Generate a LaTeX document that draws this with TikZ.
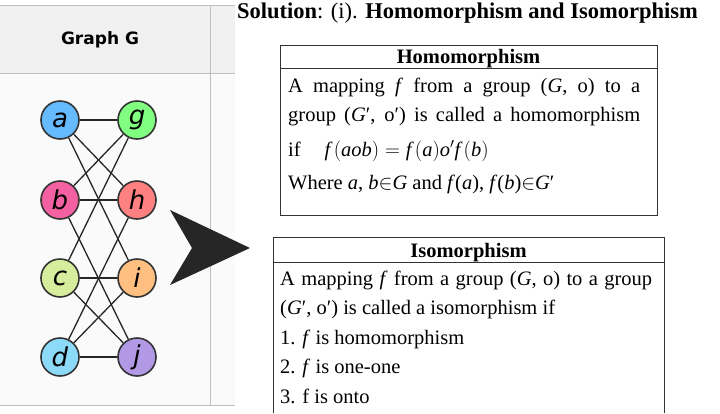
\documentclass[tikz,border=0pt]{standalone}
\usepackage{fontspec}
\setmainfont{Liberation Serif}
\newfontfamily\graphfont{DejaVu Sans}
\newfontfamily\vertexfont{DejaVu Sans Oblique}
\usetikzlibrary{positioning}
\pgfdeclarelayer{background}
\pgfsetlayers{background,main}
\newcommand{\jline}[1]{\makebox[352pt][s]{#1}}
\begin{document}
\begin{tikzpicture}[x=1pt,y=-1pt]
\tikzstyle{vertex} = [circle, draw=black!80, line width=1.6pt, minimum size=38pt, inner sep=0pt, font=\vertexfont\fontsize{26}{26}\selectfont]
\tikzstyle{edge} = [line width=1.3pt, black!85]
\tikzstyle{body} = [anchor=base west, inner sep=0pt, font=\fontsize{20.5}{20.5}\selectfont]
\tikzstyle{head} = [anchor=base, inner sep=0pt, font=\bfseries\fontsize{20.5}{20.5}\selectfont]
\useasboundingbox (0,0) rectangle (720,413);
%
% table panel
\begin{pgfonlayer}{background}
\fill[black!6] (0,5) rectangle (235,73);
\fill[black!2] (0,73) rectangle (235,405);
\draw[black!25] (0,5) -- (235,5) (0,73) -- (235,73) (0,405) -- (235,405) (210,5) -- (210,405);
\end{pgfonlayer}
\node (graphhead) [font=\graphfont\bfseries\fontsize{17}{17}\selectfont] at (100,40) {Graph G};
%
% vertices
\node (a) [vertex, fill=blue!45!cyan!60] at (60,120) {a};
\node (g) [vertex, fill=green!50!white] at (137,120) {g};
\node (b) [vertex, fill=magenta!50!pink] at (60,200) {b};
\node (h) [vertex, fill=red!50!white] at (137,200) {h};
\node (c) [vertex, fill=yellow!60!green!40!white] at (60,278) {c};
\node (i) [vertex, fill=orange!50!white] at (137,278) {i};
\node (d) [vertex, fill=cyan!45!white] at (60,357) {d};
\node (j) [vertex, fill=blue!50!violet!40!white] at (137,357) {j};
%
\begin{pgfonlayer}{background}
\foreach \u/\v in {a/g,a/h,a/i,b/g,b/h,b/j,c/g,c/i,c/j,d/h,d/i,d/j}
  \draw [edge] (\u) -- (\v);
\end{pgfonlayer}
%
% arrow
\fill[black!85] (170,210) -- (250,248) -- (170,285) -- (192,248) -- cycle;
%
% title
\node (title) [anchor=base west, inner sep=0pt, font=\fontsize{22.5}{22.5}\selectfont] at (237,18) {\textbf{Solution}: (i). \textbf{Homomorphism and Isomorphism}};
%
% homomorphism box
\draw[line width=1pt, black!80] (280,45) rectangle (657,215) (280,68) -- (657,68);
\node (homhead) [head] at (468.5,63) {Homomorphism};
\node (hom1) [body] at (288,92) {\jline{A mapping \textit{f} from a group (\textit{G}, o) to a}};
\node (hom2) [body] at (288,121) {\jline{group (\textit{G}′, o′) is called a homomorphism}};
\node (hom3) [body] at (288,156) {if\hspace{24pt}$\textit{f}\,\bigl(\textit{aob}\bigr)=\textit{f}\,\bigl(\textit{a}\bigr)\textit{o}'\textit{f}\,\bigl(\textit{b}\bigr)$};
\node (hom4) [body] at (288,189) {Where \textit{a}, \textit{b}$\in$\textit{G} and \textit{f}(\textit{a}), \textit{f}(\textit{b})$\in$\textit{G}′};
%
% isomorphism box
\draw[line width=1pt, black!80] (273,413) -- (273,237) -- (664,237) -- (664,413) (273,262) -- (664,262);
\node (isohead) [head] at (468.5,257) {Isomorphism};
\node (iso1) [body] at (280,285) {\makebox[372pt][s]{A mapping \textit{f} from a group (\textit{G}, o) to a group}};
\node (iso2) [body] at (280,314) {(\textit{G}′, o′) is called a isomorphism if};
\node (iso3) [body] at (280,344) {1. \textit{f} is homomorphism};
\node (iso4) [body] at (280,373) {2. \textit{f} is one-one};
\node (iso5) [body] at (280,403) {3. f is onto};
\end{tikzpicture}
\end{document}
